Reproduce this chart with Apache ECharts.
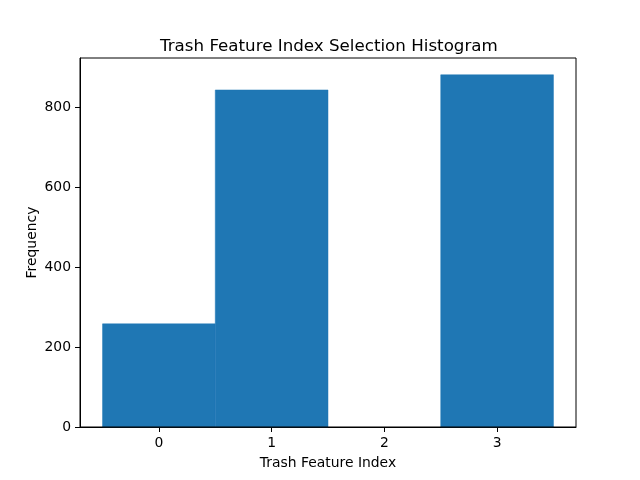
<!DOCTYPE html>
<html><head><meta charset="utf-8">
<script src="https://cdn.jsdelivr.net/npm/echarts@6/dist/echarts.min.js"></script>
<style>html,body{margin:0;padding:0;background:#fff}#c{width:640px;height:480px}</style>
</head><body><div id="c"></div>
<script>
const categories = [0, 1, 2, 3];
const frequencies = [258, 843, 0, 881];
const xTicks = [0, 1, 2, 3];
const yTicks = [0, 200, 400, 600, 800];

const chart = echarts.init(document.getElementById('c'), null, {renderer: 'canvas'});
const font = 'DejaVu Sans';
const data = categories.map((c, i) => [c - 0.5, c + 0.5, frequencies[i]]);
chart.setOption({
  animation: false,
  title: {text: 'Trash Feature Index Selection Histogram', left: 155, top: 33,
    textStyle: {fontFamily: font, fontSize: 16.7, fontWeight: 'normal', color: '#000'}},
  grid: {left: 80, right: 64, top: 58, bottom: 53, containLabel: false},
  xAxis: {type: 'value', min: -0.7, max: 3.7,
    name: 'Trash Feature Index', nameLocation: 'middle', nameGap: 29,
    nameTextStyle: {fontFamily: font, fontSize: 13.9, color: '#000'},
    axisLine: {show: true, onZero: false, lineStyle: {color: '#000', width: 1}},
    axisTick: {show: true, inside: false, length: 5, lineStyle: {color: '#000'}, customValues: xTicks},
    axisLabel: {fontFamily: font, fontSize: 13.9, color: '#000', margin: 9, customValues: xTicks},
    splitLine: {show: false}},
  yAxis: {type: 'value', min: 0, max: 923, interval: 200,
    name: 'Frequency', nameLocation: 'middle', nameGap: 41, nameRotate: 90, nameMoveOverlap: false,
    nameTextStyle: {fontFamily: font, fontSize: 13.9, color: '#000'},
    axisLine: {show: true, onZero: false, lineStyle: {color: '#000', width: 1}},
    axisTick: {show: true, inside: false, length: 5, lineStyle: {color: '#000'}, customValues: yTicks},
    axisLabel: {fontFamily: font, fontSize: 13.9, color: '#000', margin: 9, customValues: yTicks},
    splitLine: {show: false}},
  series: [{
    type: 'custom',
    data: data,
    encode: {x: [0, 1], y: 2},
    renderItem: function (params, api) {
      if (api.value(2) <= 0) return null;
      const p0 = api.coord([api.value(0), 0]);
      const p1 = api.coord([api.value(1), api.value(2)]);
      return {type: 'rect', shape: {x: p0[0], y: p1[1], width: p1[0] - p0[0], height: p0[1] - p1[1]},
        style: {fill: '#1f77b4', stroke: '#1f77b4', lineWidth: 0.5}};
    }
  }],
  graphic: [{type: 'rect', shape: {x: 80, y: 58, width: 496, height: 369}, style: {fill: 'none', stroke: '#000', lineWidth: 1}, z: 100}]
});
</script></body></html>
